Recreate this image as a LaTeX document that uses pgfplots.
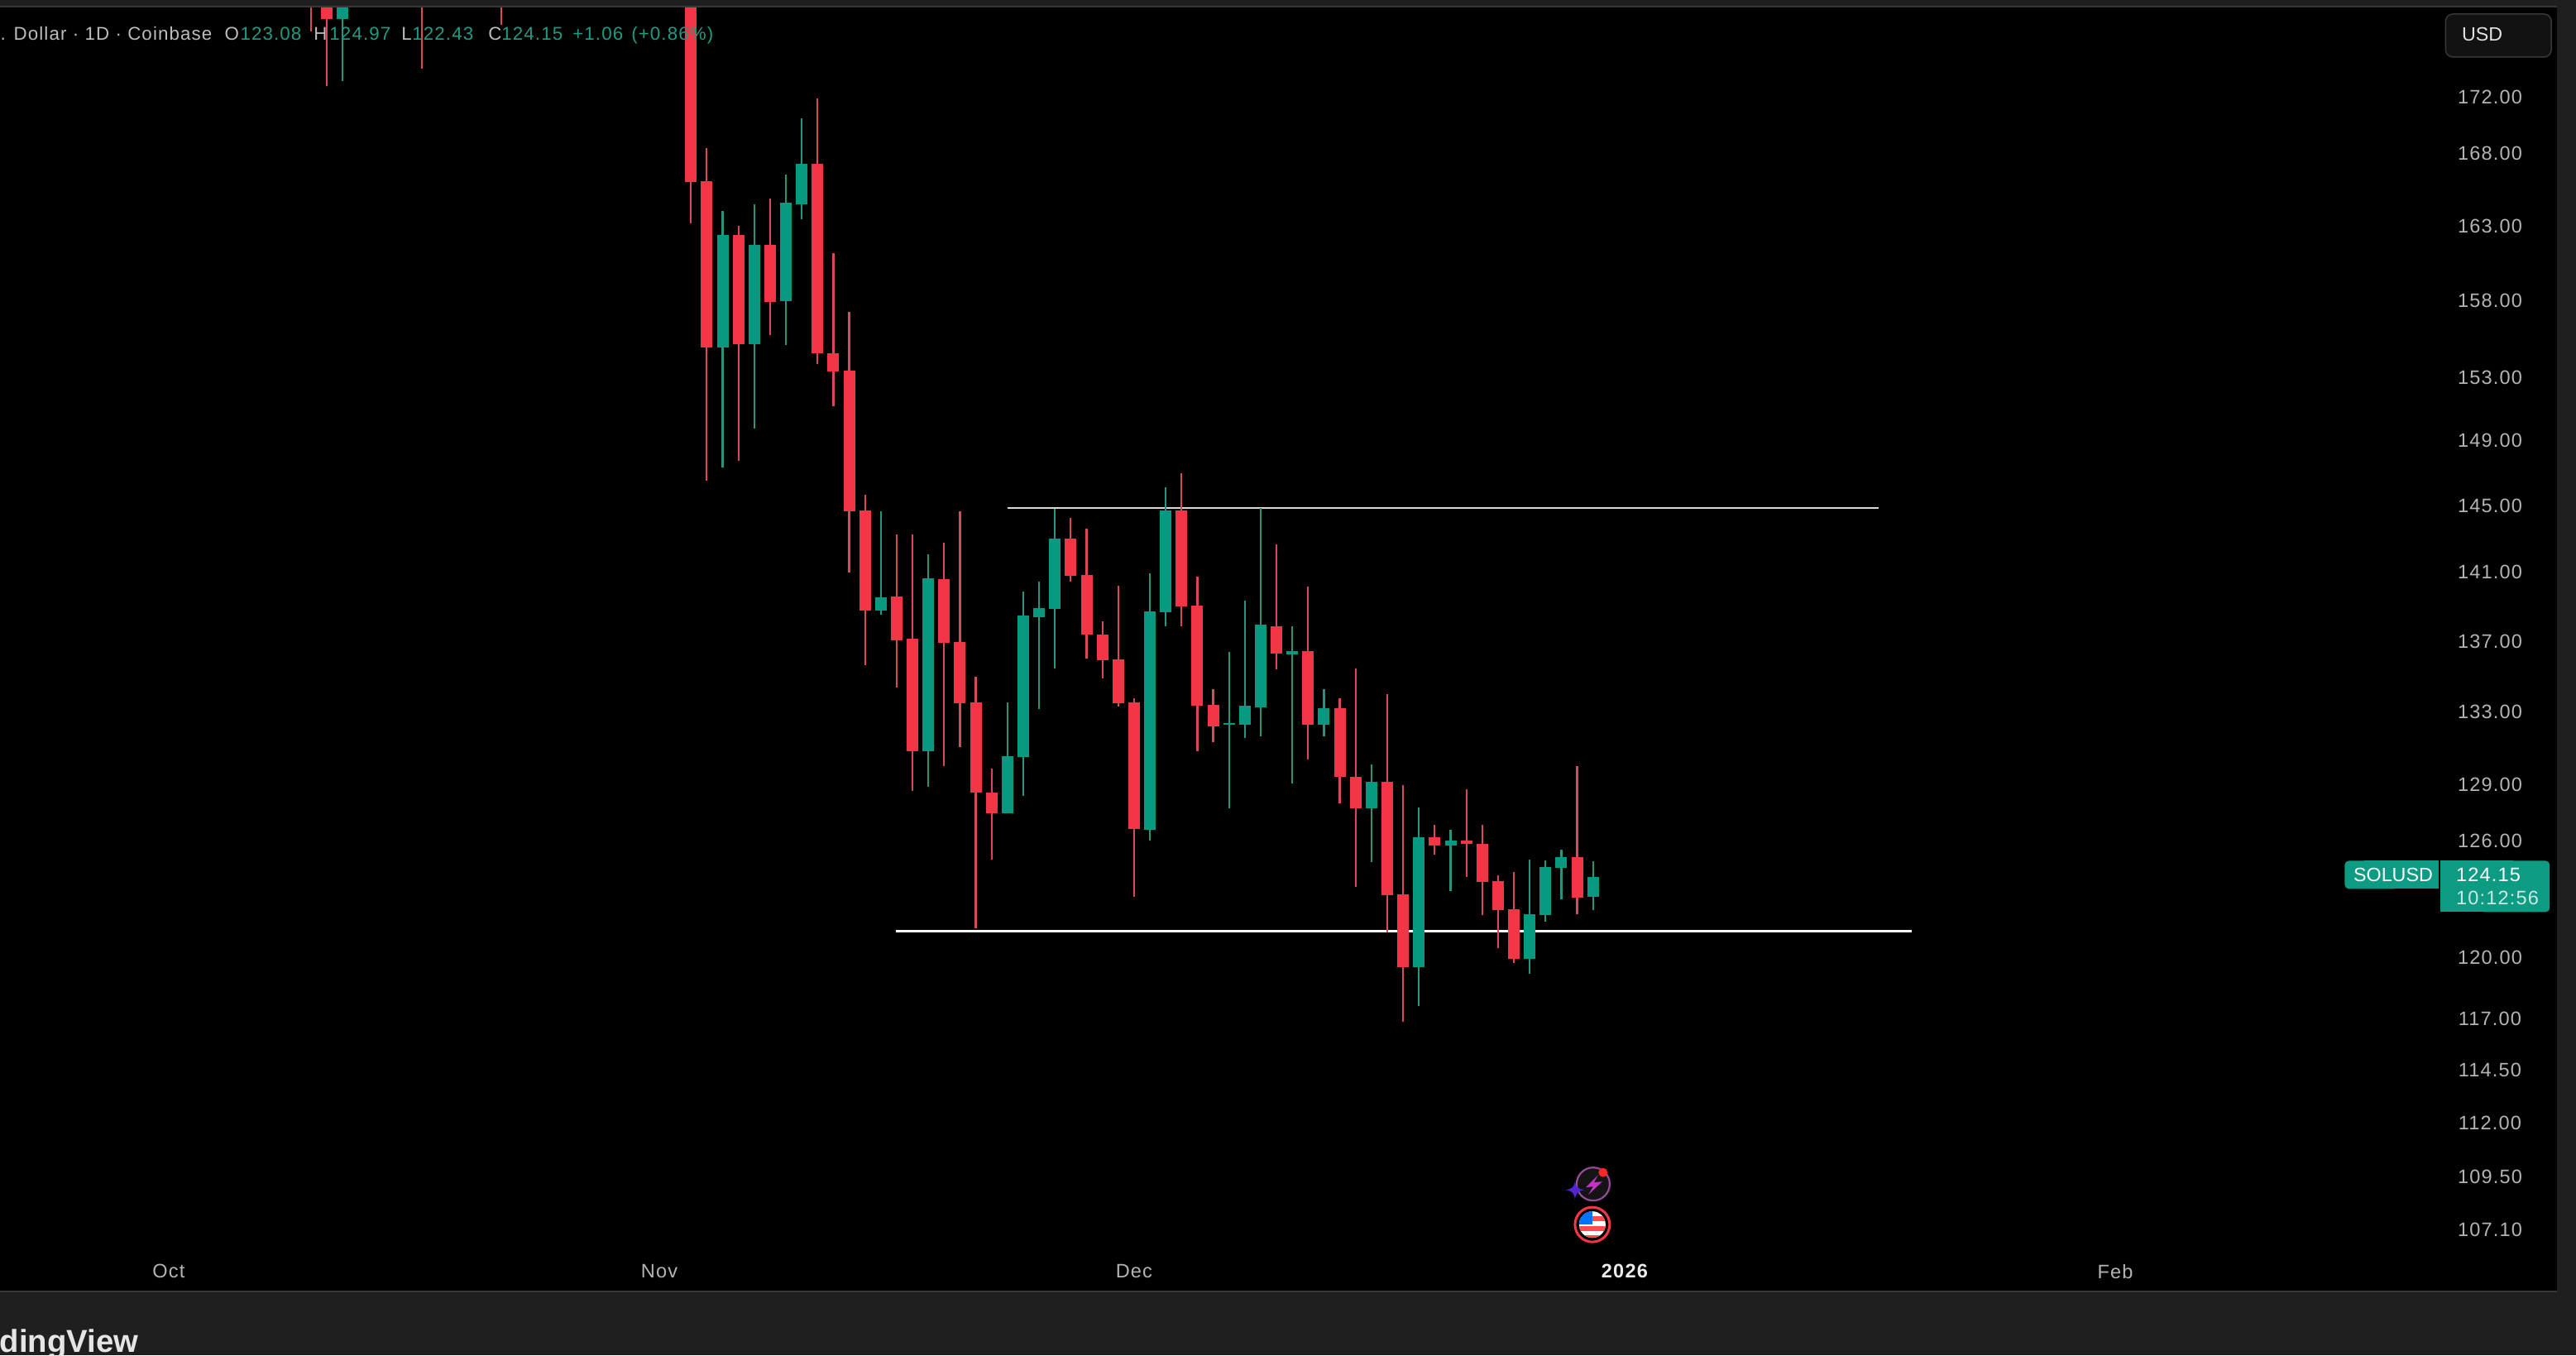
\documentclass[border=0pt]{standalone}
\usepackage{pgfplots}
\usepackage{pgfplotstable}
\usepackage{fontspec}
\pgfplotsset{compat=1.18}
\setmainfont{Liberation Sans}
\newfontfamily\tv[LetterSpace=5]{Liberation Sans}
\newcommand{\tickfont}{\tv\fontsize{6.7pt}{8pt}\selectfont}
\newcommand{\plainfont}{\rmfamily\fontsize{6.63pt}{8pt}\selectfont}
\newcommand{\headfont}{\tv\fontsize{6.35pt}{8pt}\selectfont}
\definecolor{panel}{HTML}{1F1F1F}
\definecolor{panelline}{HTML}{383838}
\definecolor{candlered}{HTML}{F23645}
\definecolor{candlegreen}{HTML}{089A80}
\definecolor{wickred}{HTML}{D94A58}
\definecolor{wickgreen}{HTML}{2A927E}
\definecolor{ticktext}{HTML}{B4B4B4}
\definecolor{headtext}{HTML}{BDBDBD}
\definecolor{headgreen}{HTML}{1E9C82}
\definecolor{tagfill}{HTML}{0E9B83}
% day number (1 Oct = 0), open, high, low, close
\pgfplotstableread{
d o h l c
9 183 185 176.8 181
10 182 185 172.84 177.75
16 183 185 174.10 181
21 183 185 177.30 181
33 186 192 163.20 166.02
34 166.05 168.37 146.54 154.93
36 162.35 162.98 147.72 155.15
38 161.72 164.85 155.73 157.92
41 167.31 171.90 153.87 154.51
42 154.56 161.17 151.17 153.34
43 153.40 157.21 141.00 144.67
44 144.72 145.66 135.64 138.79
46 139.60 143.28 134.39 137.07
47 137.12 143.28 128.66 130.82
49 140.61 142.79 130.04 136.93
50 136.97 144.67 131.05 133.47
51 133.52 134.99 121.50 128.57
52 128.61 129.91 125.05 127.49
57 143.03 144.27 140.46 140.81
58 140.86 143.63 136.02 137.36
59 137.36 138.12 134.90 135.92
60 135.97 140.23 133.31 133.47
61 133.52 133.75 123.11 126.65
64 144.72 146.95 137.84 139.03
65 139.08 140.76 130.85 133.33
66 133.38 134.26 131.34 132.22
70 137.88 142.64 135.41 136.31
72 136.45 140.18 130.40 132.31
74 133.19 133.75 128.00 129.42
75 129.42 135.46 123.63 127.76
77 129.15 134.02 121.30 123.20
78 123.24 129.00 116.84 119.52
80 126.22 126.87 125.28 125.76
82 126.04 128.75 124.15 125.85
83 125.87 126.87 122.15 123.89
84 123.93 124.23 120.50 122.42
85 122.47 124.41 119.73 119.96
89 125.18 130.00 122.21 123.07
}\redcandles
\pgfplotstableread{
d o h l c
11 177.75 185 173.19 183
35 154.93 164.00 147.31 162.35
37 155.15 164.46 149.77 161.72
39 157.97 166.56 155.09 164.57
40 164.46 170.49 163.43 167.31
45 138.79 144.67 138.55 139.56
48 130.82 142.09 128.92 140.66
53 127.49 133.52 127.49 130.58
54 130.53 139.89 128.39 138.46
55 138.36 140.46 133.15 138.93
56 138.89 144.82 135.46 143.03
62 126.60 140.95 126.04 138.74
63 138.69 146.13 137.84 144.72
67 132.30 136.40 127.76 132.38
68 132.27 139.36 131.58 133.33
69 133.24 144.87 131.65 137.93
71 136.26 137.88 129.08 136.45
73 132.31 134.28 131.67 133.19
76 127.76 130.11 124.92 129.15
79 119.52 127.81 117.60 126.22
81 125.76 126.60 123.41 126.04
86 119.96 125.05 119.21 122.21
87 122.17 125.01 121.84 124.66
88 124.62 125.55 122.98 125.18
90 123.08 124.97 122.43 124.15
}\greencandles
\begin{document}
\begin{tikzpicture}
\path[use as bounding box,fill=panel] (0,0) rectangle (31.14cm,16.38cm);
\begin{axis}[
  at={(0cm,0.76cm)},anchor=south west,
  scale only axis,width=30.93cm,height=15.53cm,
  ymode=log,
  xmin=-10.66,xmax=151.02,
  ymin=104.34,ymax=178.61,
  axis background/.style={fill=black},
  axis line style={draw=none},
  tick style={draw=none},
  major tick length=0pt,
  xtick={0,31,61,92,123},
  xticklabels={Oct,Nov,Dec,{\bfseries\color{white!92!black}2026},Feb},
  xticklabel style={font=\tickfont,text=ticktext,anchor=center,yshift=0.25cm},
  ytick={107.1,109.5,112,114.5,117,120,126,129,133,137,141,145,149,153,158,163,168,172},
  yticklabels={107.10,109.50,112.00,114.50,117.00,120.00,126.00,129.00,133.00,137.00,141.00,145.00,149.00,153.00,158.00,163.00,168.00,172.00},
  minor ytick={},
  ytick pos=right,yticklabel pos=right,
  yticklabel style={font=\tickfont,text=ticktext,anchor=center,xshift=-0.83cm},
]
% hand-drawn levels
\addplot[draw=white!85!black,line width=0.024cm] coordinates {(53.0,144.84)(108.05,144.84)};
\addplot[draw=white,line width=0.024cm] coordinates {(45.95,121.36)(110.14,121.36)};
% wicks
\addplot[draw=none,mark=none,error bars/.cd,y dir=both,y explicit,error mark=none,
  error bar style={line width=0.022cm,draw=wickred,solid}]
  table[x=d,y=o,y error plus expr=\thisrow{h}-\thisrow{o},y error minus expr=\thisrow{o}-\thisrow{l}] {\redcandles};
\addplot[draw=none,mark=none,error bars/.cd,y dir=both,y explicit,error mark=none,
  error bar style={line width=0.022cm,draw=wickgreen,solid}]
  table[x=d,y=o,y error plus expr=\thisrow{h}-\thisrow{o},y error minus expr=\thisrow{o}-\thisrow{l}] {\greencandles};
% bodies
\addplot[draw=none,mark=none,error bars/.cd,y dir=plus,y explicit,error mark=none,
  error bar style={line width=0.14cm,draw=candlered,solid}]
  table[x=d,y=c,y error plus expr=\thisrow{o}-\thisrow{c},y error minus expr=0] {\redcandles};
\addplot[draw=none,mark=none,error bars/.cd,y dir=plus,y explicit,error mark=none,
  error bar style={line width=0.14cm,draw=candlegreen,solid}]
  table[x=d,y=o,y error plus expr=\thisrow{c}-\thisrow{o},y error minus expr=0] {\greencandles};
\end{axis}
\begin{scope}[yshift=16.38cm,x=0.01cm,y=-0.01cm]
% frame lines
\fill[panel] (0,0) rectangle (3114,8);
\draw[panelline,line width=0.02cm] (0,8.5) -- (3093,8.5);
\draw[panelline,line width=0.02cm] (0,1562) -- (3093,1562);
\fill[panel] (3093,0) rectangle (3114,1638);
% header
\begin{scope}[every node/.style={inner sep=0pt,anchor=base west,font=\headfont}]
\node[text=headtext] at (0,49) {. Dollar · 1D · Coinbase};
\node[text=headtext] at (271,49) {O};
\node[text=headgreen] at (290,49) {123.08};
\node[text=headtext] at (379,49) {H};
\node[text=headgreen] at (398,49) {124.97};
\node[text=headtext] at (485,49) {L};
\node[text=headgreen] at (498,49) {122.43};
\node[text=headtext] at (590,49) {C};
\node[text=headgreen] at (606,49) {124.15};
\node[text=headgreen] at (692,49) {+1.06};
\node[text=headgreen] at (763,49) {(+0.86\%)};
\end{scope}
% USD box
\draw[draw=white!22!black,fill=white!7!black,line width=0.015cm,rounded corners=0.09cm] (2958,17) rectangle (3086,69);
\node[inner sep=0pt,anchor=base west,font=\plainfont,text=white!88!black] at (2977,50) {USD};
% last price tags
\fill[tagfill,rounded corners=0.05cm] (2836,1041) rectangle (2900,1075);
\fill[tagfill] (2860,1041) rectangle (2950,1075);
\fill[tagfill,rounded corners=0.05cm] (3000,1041) rectangle (3084,1103);
\fill[tagfill] (2952,1041) rectangle (3040,1103);
\node[inner sep=0pt,anchor=base west,font=\plainfont,text=white] at (2846,1066) {SOLUSD};
\node[inner sep=0pt,anchor=base west,font=\tickfont,text=white] at (2970,1066) {124.15};
\node[inner sep=0pt,anchor=base west,font=\tickfont,text=white!78!tagfill] at (2970,1094) {10:12:56};
% watermark
\node[inner sep=0pt,anchor=base east,font=\fontsize{10.9pt}{12pt}\selectfont\bfseries,text=white!90!black] at (168,1635) {dingView};
% event icons
\draw[draw=black!20!violet!70!white,fill=white!8!black,line width=0.022cm] (1927,1432) circle (20);
\fill[violet!60!magenta!80!white] (1933,1421) -- (1918,1436) -- (1927,1435) -- (1921,1445) -- (1938,1429) -- (1928,1430) -- cycle;
\fill[red!85!white] (1939,1418) circle (5.5);
\fill[blue!60!violet!85!white] (1893,1439) .. controls (1902,1438) and (1904,1436) .. (1905,1428) .. controls (1906,1436) and (1908,1438) .. (1917,1439) .. controls (1908,1440) and (1906,1443) .. (1905,1451) .. controls (1904,1443) and (1902,1440) .. cycle;
\draw[draw=candlered,fill=black,line width=0.03cm] (1926,1481) circle (21);
\begin{scope}
\clip (1926,1481) circle (16);
\fill[white] (1908,1463) rectangle (1944,1499);
\fill[red!70!white] (1908,1471) rectangle (1944,1477);
\fill[red!70!white] (1908,1483) rectangle (1944,1489);
\fill[red!70!white] (1908,1494) rectangle (1944,1499);
\fill[blue!55!cyan] (1908,1463) rectangle (1926,1481);
\end{scope}
\end{scope}
\end{tikzpicture}
\end{document}
